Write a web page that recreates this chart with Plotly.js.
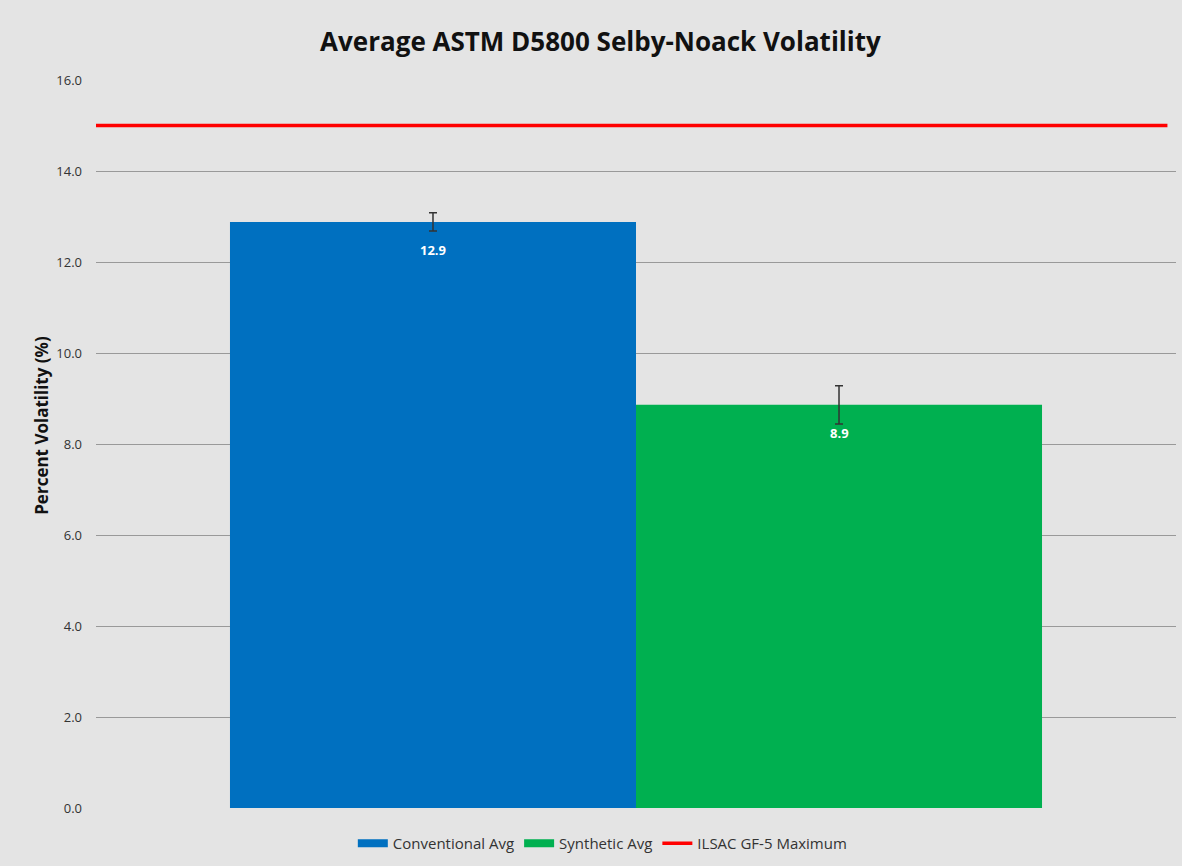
<!DOCTYPE html>
<html>
<head>
<meta charset="utf-8">
<script src="https://cdn.plot.ly/plotly-3.0.1.min.js"></script>
<style>
html,body{margin:0;padding:0;background:#e4e4e4;}
#chart{width:1182px;height:866px;}
</style>
</head>
<body>
<div id="chart"></div>
<script>
const seriesNames = ["Conventional Avg", "Synthetic Avg"];
const seriesValues = [12.88, 8.86];
const seriesErrors = [0.2, 0.42];
const seriesColors = ["#0070c0", "#00b050"];
const limitName = "ILSAC GF-5 Maximum";
const limitValue = 15.0;
const yTicks = [0, 2, 4, 6, 8, 10, 12, 14, 16];
const yTickLabels = ["0.0", "2.0", "4.0", "6.0", "8.0", "10.0", "12.0", "14.0", "16.0"];
const yTitle = "Percent Volatility (%)";

const traces = seriesNames.map((n, i) => ({
  type: "bar",
  name: n,
  x: [i],
  y: [seriesValues[i]],
  width: 1,
  marker: {color: seriesColors[i]},
  error_y: {type: "data", array: [seriesErrors[i]], visible: true, color: "#333333", thickness: 1.5, width: 4},
  showlegend: false,
  hoverinfo: "y"
}));
// legend entries drawn as wide swatches (no data)
seriesNames.forEach((n, i) => traces.push({
  type: "scatter", mode: "lines", name: n, x: [null], y: [null],
  line: {color: seriesColors[i], width: 8}
}));
traces.push({
  type: "scatter",
  mode: "lines",
  name: limitName,
  x: [0, 1],
  y: [limitValue, limitValue],
  xaxis: "x2",
  line: {color: "#ff0000", width: 3.5}
});

const annotations = seriesValues.map((v, i) => ({
  x: i, y: v, xref: "x", yref: "y",
  text: "<b>" + v.toFixed(1) + "</b>",
  showarrow: false, yshift: -28,
  font: {family: "Open Sans, sans-serif", size: 13, color: "#ffffff"}
}));
annotations.push({
  xref: "paper", yref: "paper", x: -0.05, y: 0.525,
  xanchor: "center", yanchor: "middle", textangle: -90,
  text: "<b>" + yTitle + "</b>", showarrow: false,
  font: {family: "Open Sans, sans-serif", size: 17, color: "#111111"}
});

const layout = {
  width: 1182, height: 866,
  paper_bgcolor: "#e4e4e4",
  plot_bgcolor: "rgba(0,0,0,0)",
  margin: {l: 96, r: 6, t: 80, b: 58},
  title: {
    text: "<b>Average ASTM D5800 Selby-Noack Volatility</b>",
    x: 0.508, xanchor: "center", y: 0.952, yanchor: "middle",
    font: {family: "Open Sans, sans-serif", size: 26, color: "#111111"}
  },
  barmode: "overlay",
  xaxis: {range: [-0.83, 1.83], showticklabels: false, showgrid: false, zeroline: false, ticks: ""},
  xaxis2: {range: [0, 1.008], overlaying: "x", showticklabels: false, showgrid: false, zeroline: false, ticks: ""},
  yaxis: {
    range: [0, 16], tickvals: yTicks, ticktext: yTickLabels,
    showgrid: true, gridcolor: "#999999", gridwidth: 1, zeroline: false,
    ticks: "", ticklabelstandoff: 13,
    tickfont: {family: "Open Sans, sans-serif", size: 13, color: "#333333"}
  },
  legend: {
    orientation: "h", x: 0.51, xanchor: "center", xref: "container",
    y: 0.026, yanchor: "middle", yref: "container",
    font: {family: "Open Sans, sans-serif", size: 15, color: "#333333"},
    bgcolor: "rgba(0,0,0,0)", traceorder: "normal"
  },
  annotations: annotations,
  showlegend: true
};

Plotly.newPlot("chart", traces, layout, {displayModeBar: false, staticPlot: true});
</script>
</body>
</html>
